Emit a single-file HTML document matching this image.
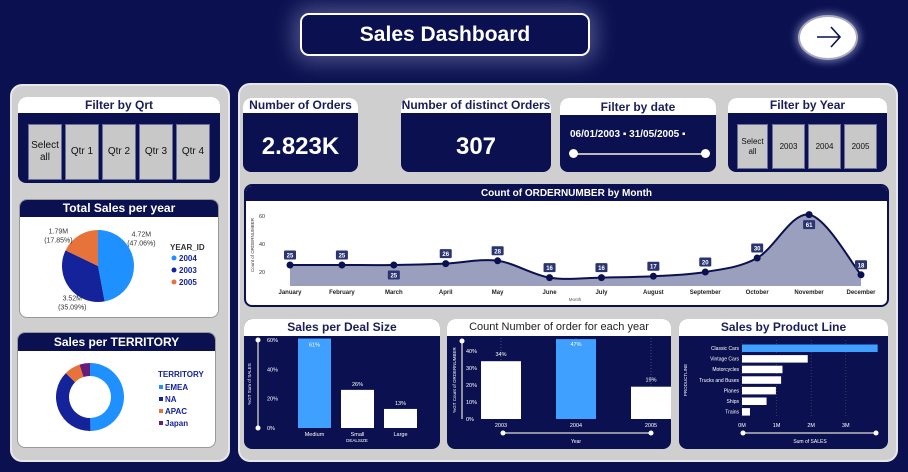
<!DOCTYPE html>
<html><head><meta charset="utf-8">
<style>
*{box-sizing:border-box;margin:0;padding:0}
body{width:908px;height:472px;background:#0b1150;font-family:"Liberation Sans Narrow","Liberation Sans",sans-serif;position:relative;overflow:hidden}
.abs{position:absolute}
.panel{background:#cfcfcf;border-radius:12px;border:2px solid #e8e8e8}
.card{position:absolute;border-radius:8px;overflow:hidden;background:#0b1150}
.hw{background:#fff;color:#1a1f5a;font-weight:bold;text-align:center}
.hn{background:#0b1150;color:#fff;font-weight:bold;text-align:center}
.btn{position:absolute;background:#c8c8c8;border:1px solid #6a6f9a;color:#111;font-size:10px;text-align:center;display:flex;align-items:center;justify-content:center;line-height:1.2}
svg text{font-family:"Liberation Sans Narrow","Liberation Sans",sans-serif}
</style></head><body>
<div class="abs" style="left:300px;top:13px;width:290px;height:43px;border:2px solid #fff;border-radius:9px;box-shadow:0 0 22px 6px rgba(200,210,255,0.35);color:#fff;font-weight:bold;font-size:21px;text-align:center;line-height:39px">Sales Dashboard</div>
<div class="abs" style="left:798px;top:15px;width:60px;height:45px;border-radius:50%;background:#fff;border:2px solid #aab;box-shadow:0 0 8px 2px rgba(200,210,255,.5)">
<svg width="56" height="41"><path d="M17 20 H40 M31 10 L40 20 L31 30" stroke="#0b1150" stroke-width="1.6" fill="none"/></svg></div>

<div class="abs panel" style="left:10px;top:84px;width:220px;height:378px"></div>
<div class="abs panel" style="left:238px;top:83px;width:660px;height:379px"></div>

<div class="card" style="left:18px;top:97px;width:202px;height:86px">
<div class="hw" style="height:16px;font-size:12px;line-height:16px">Filter by Qrt</div>
<div class="btn" style="left:10px;top:27px;width:34px;height:56px">Select<br>all</div>
<div class="btn" style="left:47px;top:27px;width:34px;height:56px">Qtr 1</div>
<div class="btn" style="left:84px;top:27px;width:34px;height:56px">Qtr 2</div>
<div class="btn" style="left:121px;top:27px;width:34px;height:56px">Qtr 3</div>
<div class="btn" style="left:158px;top:27px;width:34px;height:56px">Qtr 4</div>
</div>

<div class="card" style="left:19px;top:199px;width:200px;height:119px;background:#fff;border:1px solid #999">
<div class="hn" style="height:17px;font-size:12px;line-height:17px">Total Sales per year</div>
<svg id="pie" class="abs" style="left:0;top:0" width="200" height="119"></svg>
</div>

<div class="card" style="left:17px;top:332px;width:199px;height:116px;background:#fff;border:1px solid #999">
<div class="hn" style="height:18px;font-size:12px;line-height:18px">Sales per TERRITORY</div>
<svg id="donut" class="abs" style="left:0;top:0" width="199" height="116"></svg>
</div>

<div class="card" style="left:243px;top:98px;width:115px;height:74px">
<div class="hw" style="height:15px;font-size:12px;line-height:15px">Number of Orders</div>
<div style="color:#fff;font-weight:bold;font-size:24px;text-align:center;margin-top:20px">2.823K</div></div>
<div class="card" style="left:401px;top:98px;width:150px;height:74px">
<div class="hw" style="height:15px;font-size:12px;line-height:15px">Number of distinct Orders</div>
<div style="color:#fff;font-weight:bold;font-size:24px;text-align:center;margin-top:20px">307</div></div>
<div class="card" style="left:560px;top:98px;width:156px;height:74px">
<div class="hw" style="height:17px;font-size:12px;line-height:19px">Filter by date</div>
<div style="color:#fff;font-size:10px;font-weight:bold;margin:14px 0 0 10px">06/01/2003 ▪ 31/05/2005 ▪</div>
<div class="abs" style="left:12px;top:55px;width:134px;height:2px;background:#bbb"></div>
<div class="abs" style="left:9px;top:51px;width:9px;height:9px;border-radius:50%;background:#fff"></div>
<div class="abs" style="left:141px;top:51px;width:9px;height:9px;border-radius:50%;background:#fff"></div>
</div>
<div class="card" style="left:728px;top:98px;width:159px;height:74px">
<div class="hw" style="height:15px;font-size:12px;line-height:15px">Filter by Year</div>
<div class="btn" style="left:9px;top:26px;width:31px;height:45px;font-size:8px">Select<br>all</div>
<div class="btn" style="left:44px;top:26px;width:33px;height:45px;font-size:8px">2003</div>
<div class="btn" style="left:80px;top:26px;width:33px;height:45px;font-size:8px">2004</div>
<div class="btn" style="left:116px;top:26px;width:33px;height:45px;font-size:8px">2005</div>
</div>

<div class="card" style="left:244px;top:184px;width:645px;height:123px;background:#fff;border:2px solid #0b1150">
<div class="hn" style="height:15px;font-size:10px;line-height:15px">Count of ORDERNUMBER by Month</div></div>
<svg id="line" class="abs" style="left:0;top:0" width="908" height="472"></svg>

<div class="card" style="left:244px;top:319px;width:196px;height:130px">
<div class="hw" style="height:17px;font-size:12px;line-height:17px;border-radius:8px 8px 0 0">Sales per Deal Size</div></div>
<div class="card" style="left:447px;top:319px;width:224px;height:130px">
<div class="hw" style="height:17px;font-size:11px;line-height:17px;font-weight:normal;color:#222">Count Number of order for each year</div></div>
<div class="card" style="left:679px;top:319px;width:209px;height:130px">
<div class="hw" style="height:17px;font-size:12px;line-height:17px">Sales by Product Line</div></div>
<svg id="bars" class="abs" style="left:0;top:0" width="908" height="472"></svg>

<script>
const NS="http://www.w3.org/2000/svg";
function mk(svg,tag,attrs,txt){const e=document.createElementNS(NS,tag);for(const k in attrs)e.setAttribute(k,attrs[k]);if(txt!==undefined)e.textContent=txt;svg.appendChild(e);return e;}

const yearLabels=["2004","2003","2005"];
const yearSales=[4.72,3.52,1.79];
const yearColors=["#1e90ff","#15239a","#e8733a"];
const territories=["EMEA","NA","APAC","Japan"];
const territoryShare=[49.8,37.6,7.6,5.0];
const terrColors=["#1e90ff","#15239a","#e8733a","#6a1b7a"];
const months=["January","February","March","April","May","June","July","August","September","October","November","December"];
const monthCounts=[25,25,25,26,28,16,16,17,20,30,61,18];
const monthTicks=[20,40,60];
const dealSizes=["Medium","Small","Large"];
const dealPct=[61,26,13];
const dealTicks=[0,20,40,60];
const orderYears=["2003","2004","2005"];
const orderPct=[34,47,19];
const orderTicks=[0,10,20,30,40];
const productLines=["Classic Cars","Vintage Cars","Motorcycles","Trucks and Buses","Planes","Ships","Trains"];
const productSales=[3.92,1.90,1.17,1.13,0.98,0.71,0.23];
const salesTicks=[0,1,2,3];

(function(){
const s=document.getElementById("pie");const cx=78,cy=66,r=36;
const tot=yearSales.reduce((a,b)=>a+b,0);let a=0;
yearSales.forEach((v,i)=>{const a1=a+v/tot*2*Math.PI;
const x0=cx+r*Math.sin(a),y0=cy-r*Math.cos(a),x1=cx+r*Math.sin(a1),y1=cy-r*Math.cos(a1);
const p=mk(s,"path",{d:`M${cx},${cy}L${x0},${y0}A${r},${r} 0 ${a1-a>Math.PI?1:0} 1 ${x1},${y1}Z`,fill:yearColors[i]});


const m=a+0.3*(a1-a);const lx=cx+(r+20)*Math.sin(m),ly=cy-(r+6)*Math.cos(m)-3;
const t=mk(s,"text",{x:lx,y:ly,"font-size":7,fill:"#333","text-anchor":"middle"});


mk(t,"tspan",{x:lx,dy:0},v.toFixed(2)+"M");mk(t,"tspan",{x:lx,dy:9},"("+(v/tot*100).toFixed(2)+"%)");
a=a1;});
mk(s,"text",{x:150,y:50,"font-size":8,"font-weight":"bold",fill:"#333"},"YEAR_ID");
yearLabels.forEach((l,i)=>{mk(s,"circle",{cx:154,cy:58+i*12,r:2.5,fill:yearColors[i]});
const t=mk(s,"text",{x:159,y:61+i*12,"font-size":8,"font-weight":"bold",fill:"#15239a"},l);

});
})();

(function(){
const s=document.getElementById("donut");const cx=72,cy=64,r=34,ri=21;
const tot=territoryShare.reduce((a,b)=>a+b,0);let a=0;
territoryShare.forEach((v,i)=>{const a1=a+v/tot*2*Math.PI;
const P=(rr,ang)=>[cx+rr*Math.sin(ang),cy-rr*Math.cos(ang)];const L=a1-a>Math.PI?1:0;
const [x0,y0]=P(r,a),[x1,y1]=P(r,a1),[x2,y2]=P(ri,a1),[x3,y3]=P(ri,a);
const p=mk(s,"path",{d:`M${x0},${y0}A${r},${r} 0 ${L} 1 ${x1},${y1}L${x2},${y2}A${ri},${ri} 0 ${L} 0 ${x3},${y3}Z`,fill:terrColors[i]});


a=a1;});
mk(s,"text",{x:140,y:44,"font-size":8,"font-weight":"bold",fill:"#15239a"},"TERRITORY");
territories.forEach((l,i)=>{mk(s,"rect",{x:141,y:52+i*12,width:4,height:4,fill:terrColors[i]});
const t=mk(s,"text",{x:147,y:57+i*12,"font-size":8,"font-weight":"bold",fill:"#15239a"},l);

});
})();

(function(){
const s=document.getElementById("line");
const X=i=>290+i*(861-290)/(months.length-1);const Y=v=>272-(v-20)*1.4;
monthTicks.forEach(t=>mk(s,"text",{x:259,y:Y(t)+2,"font-size":5.5,fill:"#333"},t));
mk(s,"text",{x:254,y:245,"font-size":4.5,fill:"#333",transform:"rotate(-90 254 245)","text-anchor":"middle"},"Count of ORDERNUMBER");
const pts=monthCounts.map((v,i)=>[X(i),Y(v)]);
let d=`M${pts[0][0]},${pts[0][1]}`;
for(let i=0;i<pts.length-1;i++){const p0=pts[Math.max(0,i-1)],p1=pts[i],p2=pts[i+1],p3=pts[Math.min(pts.length-1,i+2)];
d+=`C${p1[0]+(p2[0]-p0[0])/6},${p1[1]+(p2[1]-p0[1])/6} ${p2[0]-(p3[0]-p1[0])/6},${p2[1]-(p3[1]-p1[1])/6} ${p2[0]},${p2[1]}`;}
const area=mk(s,"path",{d:d+`L${X(11)},${Y(10)}L${X(0)},${Y(10)}Z`,fill:"#9a9fbd"});


const ln=mk(s,"path",{d:d,fill:"none",stroke:"#0b1150","stroke-width":2});


monthCounts.forEach((v,i)=>{
const c=mk(s,"circle",{cx:X(i),cy:Y(v),r:3.5,fill:"#0b1150"});


const below=(i===2||i===10);const ly=below?Y(v)+10:Y(v)-10;
mk(s,"rect",{x:X(i)-6,y:ly-4.5,width:12,height:9,fill:"#2a3470",rx:1});
mk(s,"text",{x:X(i),y:ly+2.5,"font-size":6,"font-weight":"bold",fill:"#fff","text-anchor":"middle"},v);
const t=mk(s,"text",{x:X(i),y:294,"font-size":6,"font-weight":"bold",fill:"#222","text-anchor":"middle"},months[i]);

});
mk(s,"text",{x:575,y:301,"font-size":4.5,fill:"#555","text-anchor":"middle"},"Month");
})();

(function(){
const s=document.getElementById("bars");
const dY=v=>428-v*88/60;const dX=i=>298+i*43;
mk(s,"line",{x1:258,y1:340,x2:258,y2:428,stroke:"#bbb","stroke-width":1.5});
mk(s,"circle",{cx:258,cy:340,r:2.5,fill:"#fff"});mk(s,"circle",{cx:258,cy:428,r:2.5,fill:"#fff"});
mk(s,"text",{x:251,y:384,"font-size":4.5,fill:"#fff",transform:"rotate(-90 251 384)","text-anchor":"middle"},"%GT Sum of SALES");
dealTicks.forEach(t=>mk(s,"text",{x:267,y:dY(t)+2,"font-size":5.5,fill:"#fff"},t+"%"));
dealPct.forEach((v,i)=>{const r=mk(s,"rect",{x:dX(i),y:dY(v),width:33,height:dY(0)-dY(v),fill:i===0?"#3fa0ff":"#fff"});


mk(s,"text",{x:dX(i)+16.5,y:i===0?dY(v)+8:dY(v)-4,"font-size":5.5,fill:"#fff","text-anchor":"middle"},v+"%");
mk(s,"text",{x:dX(i)+16.5,y:436,"font-size":5.5,fill:"#fff","text-anchor":"middle"},dealSizes[i]);});
mk(s,"text",{x:357,y:442,"font-size":4.5,fill:"#fff","text-anchor":"middle"},"DEALSIZE");
const oY=v=>419-v*1.7;const oX=i=>481+i*75;
mk(s,"line",{x1:462,y1:341,x2:462,y2:419,stroke:"#bbb","stroke-width":1.5});
mk(s,"circle",{cx:462,cy:341,r:2.5,fill:"#fff"});
mk(s,"text",{x:456,y:380,"font-size":4.5,fill:"#fff",transform:"rotate(-90 456 380)","text-anchor":"middle"},"%GT Count of ORDERNUMBER");
orderTicks.forEach(t=>mk(s,"text",{x:466,y:oY(t)+2,"font-size":5.5,fill:"#fff"},t+"%"));
orderPct.forEach((v,i)=>{mk(s,"line",{x1:oX(i)+20,y1:338,x2:oX(i)+20,y2:oY(v),stroke:"#777","stroke-dasharray":"1,2","stroke-width":0.6});
const r=mk(s,"rect",{x:oX(i),y:oY(v),width:40,height:oY(0)-oY(v),fill:i===1?"#3fa0ff":"#fff"});


mk(s,"text",{x:oX(i)+20,y:i===1?oY(v)+7:oY(v)-5,"font-size":5.5,fill:"#fff","text-anchor":"middle"},v+"%");
mk(s,"text",{x:oX(i)+20,y:427,"font-size":5.5,fill:"#fff","text-anchor":"middle"},orderYears[i]);});
mk(s,"line",{x1:503,y1:433,x2:651,y2:433,stroke:"#bbb","stroke-width":1.5});
mk(s,"circle",{cx:503,cy:433,r:2.5,fill:"#fff"});mk(s,"circle",{cx:651,cy:433,r:2.5,fill:"#fff"});
mk(s,"text",{x:576,y:443,"font-size":5,fill:"#fff","text-anchor":"middle"},"Year");
const pX=v=>742+v*34.6;const pY=i=>348+i*10.6;
salesTicks.forEach(t=>{mk(s,"line",{x1:pX(t),y1:340,x2:pX(t),y2:418,stroke:"#555","stroke-dasharray":"1,2","stroke-width":0.6});
mk(s,"text",{x:pX(t),y:427,"font-size":5.5,fill:"#fff","text-anchor":"middle"},t+"M");});
productSales.forEach((v,i)=>{const r=mk(s,"rect",{x:pX(0),y:pY(i)-3.5,width:pX(v)-pX(0),height:7.5,fill:i===0?"#3fa0ff":"#fff"});


mk(s,"text",{x:739,y:pY(i)+2,"font-size":5,fill:"#fff","text-anchor":"end"},productLines[i]);});
mk(s,"text",{x:687,y:380,"font-size":4.5,fill:"#fff",transform:"rotate(-90 687 380)","text-anchor":"middle"},"PRODUCTLINE");
mk(s,"line",{x1:743,y1:433,x2:876,y2:433,stroke:"#bbb","stroke-width":1.5});
mk(s,"circle",{cx:743,cy:433,r:2.5,fill:"#fff"});mk(s,"circle",{cx:876,cy:433,r:2.5,fill:"#fff"});
mk(s,"text",{x:810,y:443,"font-size":5,fill:"#fff","text-anchor":"middle"},"Sum of SALES");
})();
</script>
</body></html>
